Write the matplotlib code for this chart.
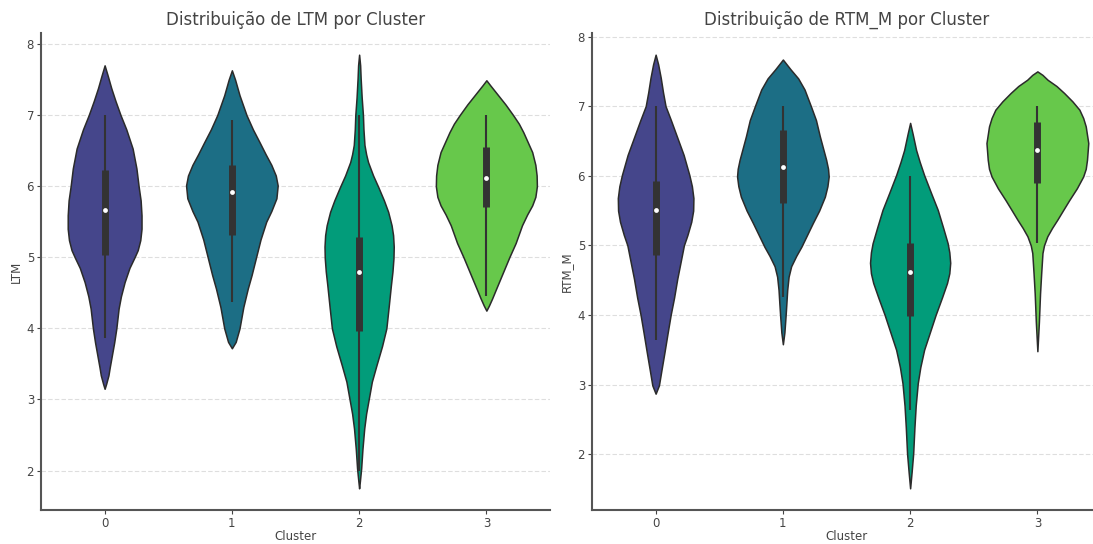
import matplotlib
matplotlib.use("Agg")
import matplotlib.pyplot as plt
import numpy as np

clusters = [0, 1, 2, 3]
colors = ['#45468b', '#1c6e85', '#029c7a', '#67c84b']

# violin outlines: value -> half width (x units)
ltm_y = [
    [3.15, 3.22, 3.34, 3.45, 3.62, 3.80, 4.00, 4.28, 4.45, 4.65, 4.85, 5.00, 5.10, 5.24, 5.40, 5.59,
     5.80, 6.00, 6.25, 6.53, 6.80, 7.00, 7.20, 7.38, 7.55, 7.70],
    [3.72, 3.81, 4.00, 4.30, 4.56, 4.75, 5.00, 5.25, 5.50, 5.65, 5.83, 6.01, 6.15, 6.30, 6.45, 6.62,
     6.80, 7.00, 7.28, 7.50, 7.63],
    [1.75, 1.85, 2.03, 2.30, 2.59, 2.80, 3.01, 3.25, 3.48, 3.75, 4.00, 4.30, 4.61, 4.80, 4.99, 5.15,
     5.31, 5.45, 5.64, 5.80, 5.99, 6.15, 6.34, 6.45, 6.58, 6.80, 7.00, 7.25, 7.52, 7.70, 7.85],
    [4.25, 4.32, 4.42, 4.55, 4.70, 4.85, 5.00, 5.20, 5.45, 5.60, 5.73, 5.85, 6.00, 6.15, 6.30, 6.48,
     6.60, 6.76, 6.88, 7.00, 7.15, 7.33, 7.42, 7.49],
]
ltm_w = [
    [0.0, 0.012, 0.030, 0.040, 0.057, 0.075, 0.092, 0.110, 0.128, 0.157, 0.195, 0.235, 0.260, 0.280,
     0.290, 0.290, 0.283, 0.267, 0.250, 0.220, 0.170, 0.125, 0.085, 0.052, 0.025, 0.0],
    [0.0, 0.030, 0.060, 0.090, 0.125, 0.155, 0.190, 0.225, 0.270, 0.310, 0.350, 0.360, 0.345, 0.310,
     0.265, 0.217, 0.165, 0.115, 0.060, 0.025, 0.0],
    [0.0, 0.006, 0.016, 0.026, 0.040, 0.055, 0.076, 0.100, 0.136, 0.180, 0.214, 0.232, 0.250, 0.262,
     0.270, 0.272, 0.267, 0.255, 0.228, 0.195, 0.150, 0.110, 0.070, 0.055, 0.042, 0.034, 0.030, 0.020,
     0.012, 0.008, 0.0],
    [0.0, 0.020, 0.045, 0.075, 0.110, 0.145, 0.180, 0.230, 0.280, 0.320, 0.360, 0.385, 0.397, 0.395,
     0.385, 0.360, 0.330, 0.290, 0.255, 0.210, 0.150, 0.070, 0.030, 0.0],
]
# whisker low, q1, median, q3, whisker high
ltm_box = [
    [3.86, 5.03, 5.66, 6.23, 7.00],
    [4.37, 5.31, 5.92, 6.30, 6.93],
    [2.00, 3.97, 4.79, 5.29, 7.00],
    [4.46, 5.71, 6.12, 6.55, 7.00],
]

rtm_y = [
    [2.87, 2.99, 3.20, 3.47, 3.75, 4.00, 4.25, 4.52, 4.75, 5.00, 5.15, 5.34, 5.50, 5.68, 5.85, 6.01,
     6.30, 6.55, 6.80, 7.00, 7.20, 7.41, 7.60, 7.74],
    [3.58, 3.75, 3.98, 4.15, 4.36, 4.55, 4.70, 4.85, 4.98, 5.15, 5.32, 5.50, 5.70, 5.85, 5.99, 6.10,
     6.23, 6.40, 6.57, 6.80, 7.00, 7.24, 7.40, 7.53, 7.60, 7.67],
    [1.51, 1.75, 2.01, 2.39, 2.70, 3.02, 3.25, 3.50, 3.75, 4.00, 4.25, 4.46, 4.60, 4.75, 4.90, 5.03,
     5.25, 5.51, 5.75, 6.01, 6.20, 6.37, 6.60, 6.76],
    [3.48, 3.90, 4.31, 4.60, 4.89, 5.00, 5.13, 5.25, 5.37, 5.50, 5.65, 5.82, 5.99, 6.10, 6.23, 6.47,
     6.71, 6.83, 6.95, 7.07, 7.19, 7.29, 7.38, 7.45, 7.50],
]
rtm_w = [
    [0.0, 0.026, 0.045, 0.070, 0.095, 0.118, 0.145, 0.170, 0.195, 0.222, 0.250, 0.280, 0.295, 0.297,
     0.285, 0.265, 0.220, 0.170, 0.120, 0.078, 0.058, 0.040, 0.020, 0.0],
    [0.0, 0.012, 0.021, 0.027, 0.034, 0.045, 0.065, 0.105, 0.145, 0.190, 0.235, 0.285, 0.330, 0.350,
     0.360, 0.355, 0.340, 0.315, 0.290, 0.260, 0.220, 0.170, 0.120, 0.060, 0.030, 0.0],
    [0.0, 0.012, 0.024, 0.034, 0.044, 0.060, 0.080, 0.110, 0.155, 0.200, 0.250, 0.290, 0.308, 0.315,
     0.308, 0.295, 0.260, 0.217, 0.165, 0.110, 0.075, 0.047, 0.020, 0.0],
    [0.0, 0.012, 0.021, 0.030, 0.040, 0.052, 0.078, 0.115, 0.157, 0.200, 0.250, 0.310, 0.360, 0.380,
     0.390, 0.400, 0.380, 0.360, 0.330, 0.275, 0.210, 0.150, 0.080, 0.040, 0.0],
]
rtm_box = [
    [3.64, 4.86, 5.51, 5.92, 7.00],
    [4.26, 5.61, 6.12, 6.66, 7.00],
    [2.63, 3.98, 4.62, 5.03, 5.99],
    [5.03, 5.90, 6.37, 6.78, 7.00],
]

W, H = 1093, 544
fig = plt.figure(figsize=(W / 100, H / 100), dpi=100)
ax1 = fig.add_axes([41 / W, 34 / H, 509 / W, 477 / H])
ax2 = fig.add_axes([592 / W, 34 / H, 509 / W, 477 / H])


def draw(ax, ys, ws, boxes, var):
    stats = []
    for y, w, b in zip(ys, ws, boxes):
        stats.append({'coords': np.array(y), 'vals': np.array(w),
                      'mean': b[2], 'median': b[2], 'min': y[0], 'max': y[-1]})
    widths = [2 * max(w) for w in ws]
    parts = ax.violin(stats, positions=clusters, widths=widths,
                      showmeans=False, showextrema=False, showmedians=False)
    for body, c in zip(parts['bodies'], colors):
        body.set_facecolor(c)
        body.set_edgecolor('#2b2b2b')
        body.set_linewidth(1.1)
        body.set_alpha(1)
        body.set_zorder(2)
    for x, b in zip(clusters, boxes):
        ax.vlines(x, b[0], b[4], color='#333333', lw=1.5, zorder=3)
        ax.vlines(x, b[1], b[3], color='#333333', lw=5, zorder=3)
        ax.scatter([x], [b[2]], s=12, color='white', zorder=4, linewidths=0)

    ax.set_xlim(-0.5, 3.5)
    ax.margins(y=0.05)
    ax.set_xticks(clusters)
    ax.set_yticks([2, 3, 4, 5, 6, 7, 8])
    ax.set_title('Distribuição de %s por Cluster' % var, fontsize=12, color='#444444', pad=6)
    ax.set_xlabel('Cluster', fontsize=8.5, color='#444444', labelpad=0)
    ax.set_ylabel(var, fontsize=8.5, color='#444444', labelpad=3)
    ax.grid(axis='y', color='#dedede', linestyle=(0, (4, 2)), linewidth=0.8)
    ax.set_axisbelow(True)
    for s in ['top', 'right']:
        ax.spines[s].set_visible(False)
    for s in ['left', 'bottom']:
        ax.spines[s].set_color('#555555')
        ax.spines[s].set_linewidth(1.5)
    ax.tick_params(labelsize=8.5, colors='#444444', length=3, width=0.8, pad=2)


draw(ax1, ltm_y, ltm_w, ltm_box, 'LTM')
draw(ax2, rtm_y, rtm_w, rtm_box, 'RTM_M')

fig.savefig('out.png', dpi=100)
